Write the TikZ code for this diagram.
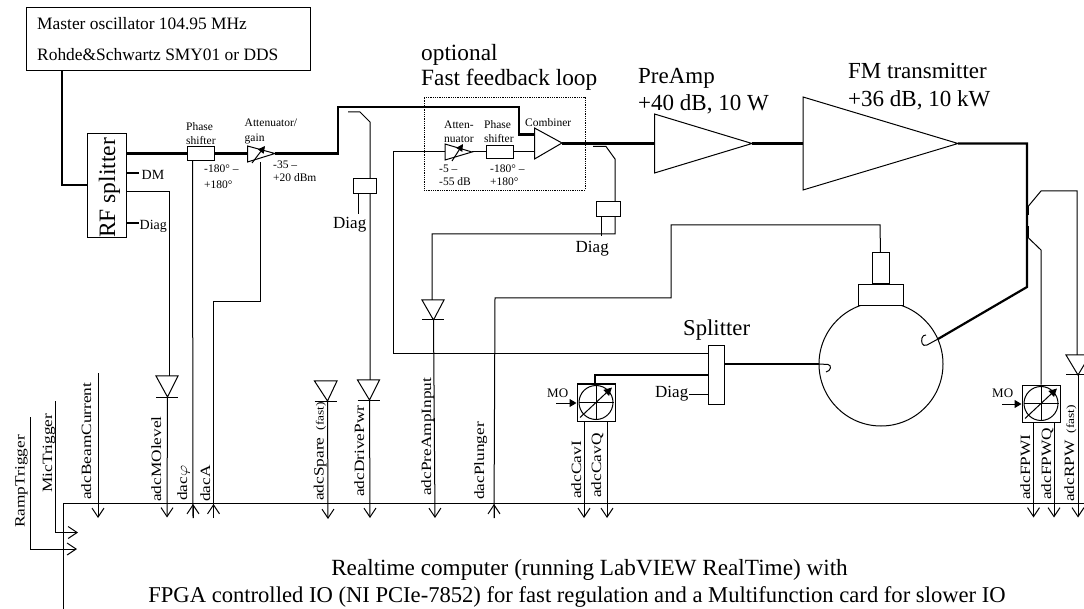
\documentclass[tikz,border=0pt]{standalone}
\usepackage{fontspec}
\setmainfont{Liberation Serif}
\usetikzlibrary{arrows.meta}
\newcommand\fz[1]{\fontsize{#1}{#1}\selectfont}
\newcommand\sq[1]{\scalebox{1}[0.82]{#1}}
\tikzset{
  x=1pt,y=-1pt,
  wire/.style={line width=1pt,line join=miter},
  thickwire/.style={line width=2.2pt,line join=miter},
  bx/.style={draw,line width=1pt,inner sep=0pt,fill=white},
  lab/.style={inner sep=0pt,anchor=base west},
  vlab/.style={inner sep=0pt,anchor=base west,rotate=90,font=\fz{17.3}},
  adc/.style={wire,-{Straight Barb[length=9pt,width=12pt,line width=1pt]}},
  trig/.style={wire,-{Straight Barb[length=9pt,width=12pt,line width=1pt]}},
  solidtip/.style={wire,-{Triangle[length=7pt,width=8pt]}},
}
% amp triangle: name, x left, y top, y bottom, tip x, tip y
\newcommand\amp[6]{%
  \coordinate (#1-a) at (#2,#3);
  \coordinate (#1-b) at (#2,#4);
  \coordinate (#1-tip) at (#5,#6);
  \draw[wire] (#1-a) -- (#1-tip) -- (#1-b) -- cycle;
}
% diode: name, x left, x right, y top, tip x, y bottom
\newcommand\diode[6]{%
  \coordinate (#1-a) at (#2,#4);
  \coordinate (#1-b) at (#3,#4);
  \coordinate (#1-tip) at (#5,#6);
  \coordinate (#1-l) at (#2,#6);
  \coordinate (#1-r) at (#3,#6);
  \draw[wire] (#1-a) -- (#1-b) -- (#1-tip) -- cycle;
  \draw[wire] (#1-l) -- (#1-r);
}
% IQ demodulator: name, cx, cy
\newcommand\iq[3]{%
  \node[bx,minimum width=38pt,minimum height=37pt] (#1) at (#2,#3) {};
  \node[draw,circle,line width=1pt,inner sep=0pt,minimum size=34pt] (#1c) at (#1) {};
  \draw[wire] (#1c.west) -- (#1c.east);
  \draw[wire] (#1c.north) -- (#1c.south);
  \coordinate (#1p) at ([xshift=-16pt,yshift=-15pt]#1.center);
  \coordinate (#1q) at ([xshift=16pt,yshift=15pt]#1.center);
  \draw[wire,-{Triangle[length=8pt,width=8pt]}] (#1p) -- (#1q);
}
\begin{document}
\begin{tikzpicture}
\useasboundingbox (0,0) rectangle (1084,609);
% Master oscillator and RF splitter
\node[bx,minimum width=283.5pt,minimum height=63.5pt] (mo) at (168.25,39.25) {};
\node[lab,font=\fz{17.4}] (mo1) at (37,30) {Master oscillator 104.95 MHz};
\node[lab,font=\fz{17.4}] (mo2) at (37,61) {Rohde\&Schwartz SMY01 or DDS};
\node[bx,minimum width=38.5pt,minimum height=104.5pt] (rf) at (106.75,185.75) {};
\node[lab,rotate=90,font=\fz{23.5}] (rft) at (115,238) {RF splitter};
\coordinate (mo-out) at (62,71);
\coordinate (mo-k) at (62,185);
\draw[thickwire] (mo-out) -- (mo-k) -- (rf.west |- mo-k);
% main path, first stage
\node[bx,minimum width=27pt,minimum height=13.5pt] (ps1) at (200.5,153.5) {};
\amp{att1}{247.5}{146}{162}{275}{153.5}
\coordinate (rf-o) at (rf.east |- ps1);
\draw[thickwire] (rf-o) -- (ps1.west);
\draw[thickwire] (ps1.east) -- (att1-a |- ps1);
\coordinate (att1-p) at (252,163);
\coordinate (att1-q) at (265,146);
\draw[wire,-{Triangle[length=7pt,width=7pt]}] (att1-p) -- (att1-q);
\coordinate (r1) at (338,153.5);
\coordinate (r2) at (338,107);
\coordinate (r3) at (519,107);
\coordinate (r4) at (519,134.5);
\amp{comb}{534.5}{128}{159}{562}{143}
\coordinate (r5) at (534.5,134.5);
\draw[thickwire] (att1-tip) -- (r1) -- (r2) -- (r3) -- (r4) -- (r5);
\node[lab,font=\fz{11.5}] (t1) at (186,131) {Phase};
\node[lab,font=\fz{11.5}] (t2) at (186,145) {shifter};
\node[lab,font=\fz{11.5}] (t3) at (244.5,127) {Attenuator/};
\node[lab,font=\fz{11.5}] (t4) at (244.5,142) {gain};
\node[lab,font=\fz{11.5}] (t5) at (204,173) {-180° –};
\node[lab,font=\fz{11.5}] (t6) at (204,189) {+180°};
\node[lab,font=\fz{11.5}] (t7) at (273,169) {-35 –};
\node[lab,font=\fz{11.5}] (t8) at (273,182) {+20 dBm};
% DM, Diag
\node[lab,font=\fz{14}] (dm) at (141.5,180) {DM};
\node[lab,font=\fz{14}] (dg1) at (139.5,230) {Diag};
\coordinate (dm-a) at (126,173);\coordinate (dm-b) at (139,173);
\draw[line width=1.4pt] (dm-a) -- (dm-b);
\coordinate (dg1-a) at (126,223);\coordinate (dg1-b) at (139,223);
\draw[line width=1.4pt] (dg1-a) -- (dg1-b);
% frame
\coordinate (fr-a) at (1084,503.5);
\coordinate (fr-b) at (63.5,503.5);
\coordinate (fr-c) at (63.5,609);
\draw[wire] (fr-a) -- (fr-b) -- (fr-c);
% adcMOlevel
\diode{dMO}{156}{178}{376}{167.5}{397}
\coordinate (mol-a) at (127,191.5);
\coordinate (mol-b) at (169,191.5);
\coordinate (mol-c) at (169,376);
\draw[wire] (mol-a) -- (mol-b) -- (mol-c);
\coordinate (mol-d) at (167,517.5);
\draw[adc] (dMO-tip) -- (mol-d);
% dac phi and dacA
\coordinate (phi-a) at (192.5,161);
\coordinate (phi-b) at (193,518);
\coordinate (phi-t) at (193,504);
\draw[wire] (phi-a) -- (phi-b);
\draw[adc] (phi-b) -- (phi-t);
\coordinate (a-a) at (260,162);
\coordinate (a-b) at (260,302);
\coordinate (a-c) at (213.5,302);
\coordinate (a-d) at (213.5,518);
\coordinate (a-t) at (213.5,504);
\draw[wire] (a-a) -- (a-b) -- (a-c) -- (a-d);
\draw[adc] (a-d) -- (a-t);
% beam current
\coordinate (bc-a) at (98,373.5);\coordinate (bc-b) at (98,518);
\draw[adc] (bc-a) -- (bc-b);
% triggers
\coordinate (m-a) at (55.5,401);\coordinate (m-b) at (55.5,532.5);\coordinate (m-c) at (78,532.5);
\draw[trig] (m-a) -- (m-b) -- (m-c);
\coordinate (rp-a) at (30.5,417);\coordinate (rp-b) at (30.5,549);\coordinate (rp-c) at (77,549);
\draw[trig] (rp-a) -- (rp-b) -- (rp-c);
% adcSpare
\diode{dSp}{314.5}{337}{381}{327.5}{401}
\coordinate (sp-b) at (328,519);
\draw[adc] (dSp-tip) -- (sp-b);
% adcDrivePwr
\coordinate (dr-a) at (348,112);\coordinate (dr-b) at (360,112);\coordinate (dr-c) at (370,122);
\coordinate (dr-d) at (370,380);
\draw[wire] (dr-a) -- (dr-b) -- (dr-c) -- (dr-d);
\node[bx,minimum width=23.5pt,minimum height=15pt] (drc) at (365,186.5) {};
\coordinate (dr-e) at (358,194);\coordinate (dr-f) at (358,214);
\draw[wire] (dr-e) -- (dr-f);
\node[lab,font=\fz{17}] (dg2) at (333,229) {Diag};
\diode{dDr}{357.5}{379.5}{380}{369.5}{400}
\coordinate (dr-g) at (370,518);
\draw[adc] (dDr-tip) -- (dr-g);
% Fast feedback
\node[draw,densely dotted,line width=.8pt,inner sep=0pt,minimum width=161pt,minimum height=93pt] (ff) at (504.5,143.5) {};
\node[lab,font=\fz{23.3}] (op) at (421,61) {optional};
\node[lab,font=\fz{23.3}] (fl) at (421,86) {Fast feedback loop};
\amp{att2}{445}{144}{160}{472}{152}
\node[bx,minimum width=27pt,minimum height=13.5pt] (ps2) at (499.5,152) {};
\coordinate (fb-a) at (708,354);
\coordinate (fb-b) at (393,354);
\coordinate (fb-c) at (393,152);
\draw[wire] (fb-b) -- (fb-c) -- (att2-a |- fb-c);
\draw[wire] (att2-tip) -- (ps2.west);
\draw[wire] (ps2.east) -- (comb-a |- ps2);
\coordinate (att2-p) at (452,161);
\coordinate (att2-q) at (463,144);
\draw[wire,-{Triangle[length=7pt,width=7pt]}] (att2-p) -- (att2-q);
\node[lab,font=\fz{11.5}] (u1) at (444,129) {Atten-};
\node[lab,font=\fz{11.5}] (u2) at (444,143) {nuator};
\node[lab,font=\fz{11.5}] (u3) at (484,129) {Phase};
\node[lab,font=\fz{11.5}] (u4) at (484,143) {shifter};
\node[lab,font=\fz{11.5}] (u5) at (525,127) {Combiner};
\node[lab,font=\fz{11.5}] (u6) at (439,173) {-5 –};
\node[lab,font=\fz{11.5}] (u7) at (439,186) {-55 dB};
\node[lab,font=\fz{11.5}] (u8) at (490,173) {-180° –};
\node[lab,font=\fz{11.5}] (u9) at (490,186) {+180°};
% PreAmp, FM transmitter
\amp{pre}{654.5}{114}{173}{752}{143.5}
\amp{fm}{803}{97}{190}{958}{143.5}
\coordinate (comb-o) at (562,143.5);
\draw[thickwire] (comb-o) -- (pre-a |- comb-o);
\draw[thickwire] (pre-tip) -- (fm-a |- pre-tip);
\node[lab,font=\fz{23}] (pa1) at (638,84) {PreAmp};
\node[lab,font=\fz{23}] (pa2) at (638,111) {+40 dB, 10 W};
\node[lab,font=\fz{23}] (fm1) at (848,79) {FM transmitter};
\node[lab,font=\fz{23}] (fm2) at (848,107) {+36 dB, 10 kW};
% Diag after combiner, adcPreAmpInput
\coordinate (c-a) at (593,146.5);\coordinate (c-b) at (606,146.5);\coordinate (c-c) at (615,159);
\coordinate (c-d) at (615,234);\coordinate (c-e) at (432,234);\coordinate (c-f) at (432,300);
\draw[wire] (c-a) -- (c-b) -- (c-c) -- (c-d) -- (c-e) -- (c-f);
\node[bx,minimum width=24pt,minimum height=15pt] (cc) at (608,209.5) {};
\coordinate (c-g) at (601,217);\coordinate (c-h) at (601,236);
\draw[wire] (c-g) -- (c-h);
\node[lab,font=\fz{17}] (dg3) at (575.5,253) {Diag};
\diode{dPa}{422}{444}{300}{433.5}{320}
\coordinate (pa-b) at (435,518);
\draw[adc] (dPa-tip) -- (pa-b);
% cavity
\node[draw,circle,line width=1pt,inner sep=0pt,minimum size=124pt] (cav) at (881,364) {};
\node[bx,minimum width=45pt,minimum height=21.5pt] (tun) at (880.5,295) {};
\node[bx,minimum width=17pt,minimum height=31pt] (pl) at (880.5,268.5) {};
\coordinate (pl-a) at (880,225);\coordinate (pl-b) at (671,225);\coordinate (pl-c) at (671,298);
\coordinate (pl-d) at (495,298);\coordinate (pl-e) at (494,518);\coordinate (pl-t) at (494,504);
\draw[wire] (pl.north) -- (pl-a) -- (pl-b) -- (pl-c) -- (pl-d) -- (pl-e);
\draw[adc] (pl-e) -- (pl-t);
% drive to cavity
\coordinate (d-a) at (1027,143.5);\coordinate (d-b) at (1027,287);\coordinate (d-c) at (938,339);
\coordinate (d-d) at (927,345);
\draw[thickwire] (fm-tip) -- (d-a) -- (d-b) -- (d-c);
\draw[wire] (d-c) -- (d-d) .. controls (922,347) and (921,342) .. (922,338) .. controls (922.5,336) and (924,335) .. (926,335);
% splitter
\node[bx,minimum width=16pt,minimum height=58pt] (sp) at (716,375) {};
\node[lab,font=\fz{22.7}] (spl) at (683,336) {Splitter};
\draw[wire] (sp.west |- fb-a) -- (fb-b);
\coordinate (cv-a) at (819,364);
\draw[thickwire] (sp.east |- cv-a) -- (cv-a);
\coordinate (cv-b) at (828,364.5);
\draw[wire] (cv-a) -- (cv-b) .. controls (832,365) and (831,371) .. (826,372);
\coordinate (s-a) at (689,394);
\draw[wire] (sp.west |- s-a) -- (s-a);
\node[lab,font=\fz{17}] (dg4) at (655,398) {Diag};
% IQ cav
\iq{iqc}{596}{402.5}
\coordinate (iqc-k) at (595,375);
\draw[thickwire] (iqc.north -| iqc-k) -- (iqc-k) -- (sp.west |- iqc-k);
\node[lab,font=\fz{13}] (mo3) at (547,398) {MO};
\coordinate (iqc-m) at (556,403);
\draw[solidtip] (iqc-m) -- (iqc.west |- iqc-m);
\coordinate (ci-b) at (584,518);\coordinate (cq-b) at (607,518);
\draw[adc] (iqc.south -| ci-b) -- (ci-b);
\draw[adc] (iqc.south -| cq-b) -- (cq-b);
% right side
\iq{iqf}{1041}{403.5}
\coordinate (f-a) at (1041,250);\coordinate (f-b) at (1028.5,238);\coordinate (f-c) at (1028.5,226);
\draw[wire] (iqf.north) -- (f-a) -- (f-b);
\draw[line width=1.8pt] (f-b) -- (f-c);
\coordinate (g-a) at (1028.5,215);\coordinate (g-b) at (1028.5,206);\coordinate (g-c) at (1041,191);
\coordinate (g-d) at (1077,191);\coordinate (g-e) at (1077,355);
\draw[line width=1.8pt] (g-a) -- (g-b);
\draw[wire] (g-b) -- (g-c) -- (g-d) -- (g-e);
\diode{dR}{1066}{1090}{355}{1078}{375}
\coordinate (r-b) at (1078,517.5);
\draw[adc] (dR-tip) -- (r-b);
\node[lab,font=\fz{13}] (mo4) at (992,398) {MO};
\coordinate (iqf-m) at (1002,404);
\draw[solidtip] (iqf-m) -- (iqf.west |- iqf-m);
\coordinate (fi-b) at (1033.5,517.5);\coordinate (fq-b) at (1054,517.5);
\draw[adc] (iqf.south -| fi-b) -- (fi-b);
\draw[adc] (iqf.south -| fq-b) -- (fq-b);
% rotated labels
\node[vlab] (l1) at (24.5,528) {\sq{RampTrigger}};
\node[vlab] (l2) at (52,493) {\sq{MicTrigger}};
\node[vlab] (l3) at (91,500) {\sq{adcBeamCurrent}};
\node[vlab] (l4) at (161,502) {\sq{adcMOlevel}};
\node[vlab] (l5) at (187,501) {\sq{dac$\varphi$}};
\node[vlab] (l6) at (210,502) {\sq{dacA}};
\node[vlab] (l7) at (323.5,501) {\sq{adcSpare\hspace{7pt}\fz{13.4}(fast)}};
\node[vlab] (l8) at (364,497) {\sq{adcDrivePwr}};
\node[vlab] (l9) at (431,496) {\sq{adcPreAmpInput}};
\node[vlab] (l10) at (484,500) {\sq{dacPlunger}};
\node[vlab] (l11) at (581,499) {\sq{adcCavI}};
\node[vlab] (l12) at (601,498) {\sq{adcCavQ}};
\node[vlab] (l13) at (1030,500) {\sq{adcFPWI}};
\node[vlab] (l14) at (1051,500) {\sq{adcFPWQ}};
\node[vlab] (l15) at (1074,502) {\sq{adcRPW\hspace{7pt}\fz{13.4}(fast)}};
% computer
\node[inner sep=0pt,anchor=base,font=\fz{23.2}] (pc1) at (589.5,575) {Realtime computer (running LabVIEW RealTime) with};
\node[inner sep=0pt,anchor=base,font=\fz{22.6}] (pc2) at (577,602) {FPGA controlled IO (NI PCIe-7852) for fast regulation and a Multifunction card for slower IO};
\end{tikzpicture}
\end{document}
